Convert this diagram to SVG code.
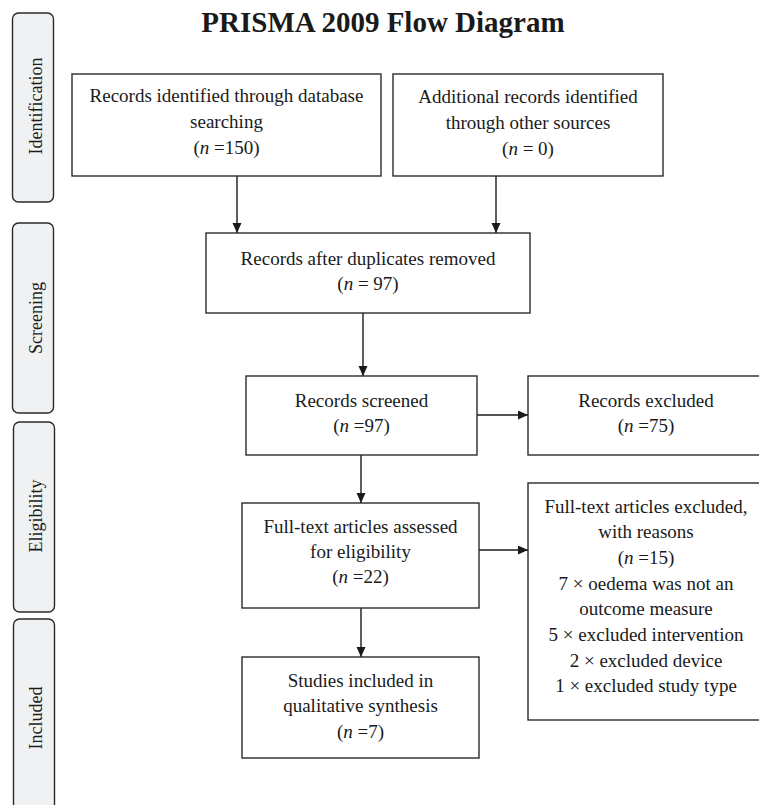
<svg xmlns="http://www.w3.org/2000/svg" width="759" height="805" viewBox="0 0 759 805">
<defs>
<style>
.box{fill:#fff;stroke:#2b2b2b;stroke-width:1.4}
.tab{fill:#f0f1f3;stroke:#2b2b2b;stroke-width:1.4}
.t{font-family:"Liberation Serif","Times New Roman",serif;font-size:19px;fill:#1a1a1a;text-anchor:middle}
.tt{font-family:"Liberation Serif","Times New Roman",serif;font-size:18px;fill:#1a1a1a;text-anchor:middle}
.title{font-family:"Liberation Serif","Times New Roman",serif;font-size:29px;font-weight:bold;fill:#1a1a1a;text-anchor:middle}
.c{stroke:#1a1a1a;stroke-width:1.4;fill:none;marker-end:url(#ah)}
.i{font-style:italic}
</style>
<marker id="ah" markerUnits="userSpaceOnUse" markerWidth="10" markerHeight="10" refX="10" refY="4.5" orient="auto">
<path d="M0,0 L10,4.5 L0,9 z" fill="#1a1a1a"/>
</marker>
</defs>
<rect width="759" height="805" fill="#fff"/>
<text class="title" x="383" y="32">PRISMA 2009 Flow Diagram</text>

<g id="tab-identification">
<rect class="tab" x="12.5" y="13" width="41" height="189" rx="6"/>
<text class="tt" transform="translate(41.5,106) rotate(-90)">Identification</text>
</g>
<g id="tab-screening">
<rect class="tab" x="12.5" y="223" width="41" height="190" rx="6"/>
<text class="tt" transform="translate(41.5,318) rotate(-90)">Screening</text>
</g>
<g id="tab-eligibility">
<rect class="tab" x="13.5" y="422" width="41" height="190" rx="6"/>
<text class="tt" transform="translate(42,516) rotate(-90)">Eligibility</text>
</g>
<g id="tab-included">
<rect class="tab" x="13.5" y="619" width="41" height="200" rx="6"/>
<text class="tt" transform="translate(42,718) rotate(-90)">Included</text>
</g>

<g id="connectors">
<line class="c" x1="237" y1="176" x2="237" y2="233"/>
<line class="c" x1="496" y1="176" x2="496" y2="233"/>
<line class="c" x1="363" y1="313" x2="363" y2="376"/>
<line class="c" x1="477" y1="415" x2="528" y2="415"/>
<line class="c" x1="361" y1="455" x2="361" y2="503"/>
<line class="c" x1="479" y1="550" x2="528" y2="550"/>
<line class="c" x1="361" y1="608" x2="361" y2="657"/>
</g>

<g id="n1">
<rect class="box" x="72" y="74" width="309" height="102"/>
<text class="t" x="226.5" y="102">Records identified through database</text>
<text class="t" x="226.5" y="128">searching</text>
<text class="t" x="226.5" y="154">(<tspan class="i">n</tspan> =150)</text>
</g>
<g id="n2">
<rect class="box" x="393" y="74" width="270" height="102"/>
<text class="t" x="528" y="103">Additional records identified</text>
<text class="t" x="528" y="129">through other sources</text>
<text class="t" x="528" y="155">(<tspan class="i">n</tspan> = 0)</text>
</g>
<g id="n3">
<rect class="box" x="206" y="233" width="324" height="80"/>
<text class="t" x="368" y="265">Records after duplicates removed</text>
<text class="t" x="368" y="290">(<tspan class="i">n</tspan> = 97)</text>
</g>
<g id="n4">
<rect class="box" x="246" y="376" width="231" height="79"/>
<text class="t" x="361.5" y="407">Records screened</text>
<text class="t" x="361.5" y="432">(<tspan class="i">n</tspan> =97)</text>
</g>
<g id="n5">
<rect class="box" x="528" y="376" width="236" height="79"/>
<text class="t" x="646" y="407">Records excluded</text>
<text class="t" x="646" y="432">(<tspan class="i">n</tspan> =75)</text>
</g>
<g id="n6">
<rect class="box" x="242" y="503" width="237" height="105"/>
<text class="t" x="360.5" y="533">Full-text articles assessed</text>
<text class="t" x="360.5" y="558">for eligibility</text>
<text class="t" x="360.5" y="583">(<tspan class="i">n</tspan> =22)</text>
</g>
<g id="n7">
<rect class="box" x="528" y="483" width="236" height="237"/>
<text class="t" x="646" y="513">Full-text articles excluded,</text>
<text class="t" x="646" y="538">with reasons</text>
<text class="t" x="646" y="564">(<tspan class="i">n</tspan> =15)</text>
<text class="t" x="646" y="590">7 × oedema was not an</text>
<text class="t" x="646" y="615">outcome measure</text>
<text class="t" x="646" y="641">5 × excluded intervention</text>
<text class="t" x="646" y="667">2 × excluded device</text>
<text class="t" x="646" y="692">1 × excluded study type</text>
</g>
<g id="n8">
<rect class="box" x="242" y="657" width="237" height="101"/>
<text class="t" x="360.5" y="687">Studies included in</text>
<text class="t" x="360.5" y="712">qualitative synthesis</text>
<text class="t" x="360.5" y="738">(<tspan class="i">n</tspan> =7)</text>
</g>
</svg>
